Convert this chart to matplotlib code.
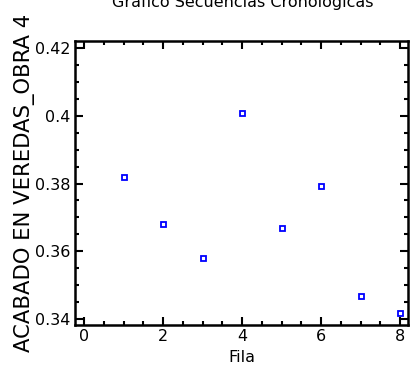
import matplotlib
matplotlib.use("Agg")
import matplotlib.pyplot as plt
from matplotlib.ticker import MultipleLocator

# data
fila = [1, 2, 3, 4, 5, 6, 7, 8]
acabado = [0.3819, 0.3679, 0.3580, 0.4009, 0.3669, 0.3792, 0.3468, 0.3418]

x_ticks = [0, 2, 4, 6, 8]
y_ticks = [0.34, 0.36, 0.38, 0.40, 0.42]
y_tick_labels = ["0.34", "0.36", "0.38", "0.4", "0.42"]

plt.rcParams['font.family'] = ['DejaVu Sans']

fig = plt.figure(figsize=(4.11, 3.85), dpi=100)
ax = fig.add_axes([0.1825, 0.1558, 0.8102, 0.7377])

ax.plot(fila, acabado, linestyle='none', marker='s', markersize=3.6,
        markerfacecolor='white', markeredgecolor='#0000ff', markeredgewidth=1.3)

ax.set_xlim(-0.23, 8.2)
ax.set_ylim(0.3382, 0.4221)
ax.set_xticks(x_ticks)
ax.set_yticks(y_ticks)
ax.set_yticklabels(y_tick_labels)
ax.xaxis.set_minor_locator(MultipleLocator(0.5))
ax.yaxis.set_minor_locator(MultipleLocator(0.005))

ax.tick_params(which='both', direction='in', top=True, right=True,
               width=1.5, labelsize=11.5, pad=3)
ax.tick_params(which='major', length=6)
ax.tick_params(which='minor', length=3)
for s in ax.spines.values():
    s.set_linewidth(1.8)

ax.set_xlabel('Fila', fontsize=11.5, labelpad=4)
ax.set_ylabel('ACABADO EN VEREDAS_OBRA 4', fontsize=15.2, labelpad=0)
# title sits mostly above the top edge, as in the reference
fig.text(0.59, 0.983, 'Gráfico Secuencias Cronológicas', ha='center',
         va='baseline', fontsize=11.5)

fig.savefig('out.png', dpi=100)
